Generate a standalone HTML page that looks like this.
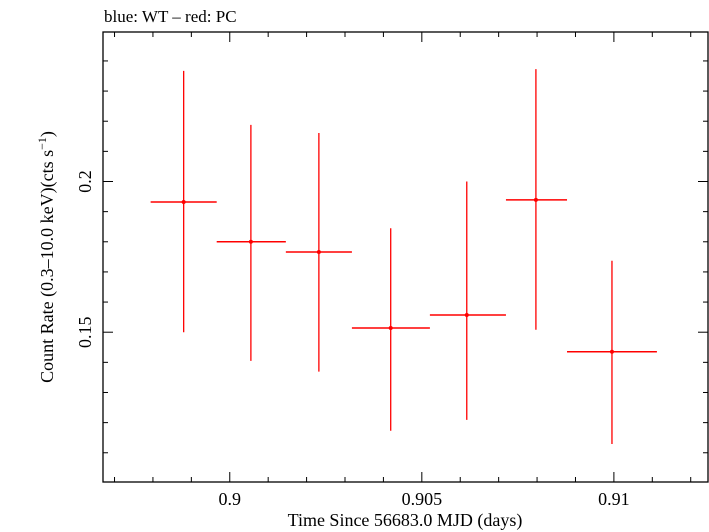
<!DOCTYPE html>
<html><head><meta charset="utf-8"><style>
body{margin:0;background:#fff;}
svg{display:block;font-family:"Liberation Serif",serif;}
</style></head><body>
<svg id="chart" width="709" height="532" viewBox="0 0 709 532" xmlns="http://www.w3.org/2000/svg">
<text x="104" y="22" font-size="17">blue: WT – red: PC</text>
<rect x="103" y="32" width="605" height="450" fill="none" stroke="#000" stroke-width="1.3"/>
<g id="ticks"></g>
<g id="marks"></g>
<text x="405" y="526" font-size="18" text-anchor="middle">Time Since 56683.0 MJD (days)</text>
<text transform="translate(53,257) rotate(-90)" font-size="18" text-anchor="middle">Count Rate (0.3–10.0 keV)(cts s<tspan font-size="12" dy="-7">−1</tspan><tspan dy="7">)</tspan></text>
</svg>
<script>
const times=[0.8988,0.90055,0.90232,0.90419,0.90617,0.90797,0.90995];
const tLo=[0.89794,0.89966,0.90146,0.90318,0.90521,0.90719,0.90878];
const tHi=[0.89966,0.90146,0.90318,0.90521,0.90719,0.90878,0.91112];
const rates=[0.1932,0.18,0.1766,0.1514,0.1557,0.1939,0.1435];
const rateHi=[0.2367,0.2188,0.2161,0.1845,0.2,0.2373,0.1737];
const rateLo=[0.15,0.1405,0.1369,0.1173,0.1209,0.1508,0.1129];
const xTicks=[0.9,0.905,0.91];
const xTickLabels=["0.9","0.905","0.91"];
const yTicks=[0.15,0.2];
const yTickLabels=["0.15","0.2"];
const X0=0.8967,X1=0.91245,Y0=0.1003,Y1=0.2496;
const L=103,R=708,T=32,B=482;
const sx=v=>L+(v-X0)/(X1-X0)*(R-L);
const sy=v=>B-(v-Y0)/(Y1-Y0)*(B-T);
const NS="http://www.w3.org/2000/svg";
function mk(tag,attrs,parent){const e=document.createElementNS(NS,tag);for(const k in attrs)e.setAttribute(k,attrs[k]);parent.appendChild(e);return e;}
const tg=document.getElementById('ticks');
for(let i=897;i<=912;i++){const v=i/1000;const x=sx(v);if(x<L||x>R)continue;const major=i%5===0;const len=major?10:5;
const a=mk('line',{x1:x,x2:x,y1:B,y2:B-len,stroke:'#000','stroke-width':1},tg);


const b=mk('line',{x1:x,x2:x,y1:T,y2:T+len,stroke:'#000','stroke-width':1},tg);

}
for(let i=11;i<=24;i++){const v=i/100;const y=sy(v);if(y<T||y>B)continue;const major=i%5===0;const len=major?10:5;
const a=mk('line',{x1:L,x2:L+len,y1:y,y2:y,stroke:'#000','stroke-width':1},tg);


const b=mk('line',{x1:R,x2:R-len,y1:y,y2:y,stroke:'#000','stroke-width':1},tg);

}
xTicks.forEach((v,i)=>{const t=mk('text',{x:sx(v),y:505,'font-size':18,'text-anchor':'middle'},tg);t.textContent=xTickLabels[i];

});
yTicks.forEach((v,i)=>{const t=mk('text',{transform:`translate(91,${sy(v)}) rotate(-90)`,'font-size':18,'text-anchor':'middle'},tg);t.textContent=yTickLabels[i];

});
const mg=document.getElementById('marks');
times.forEach((t,i)=>{const g=mk('g',{},mg);


mk('line',{x1:sx(tLo[i]),x2:sx(tHi[i]),y1:sy(rates[i]),y2:sy(rates[i]),stroke:'#f00','stroke-width':1.5},g);
mk('line',{x1:sx(t),x2:sx(t),y1:sy(rateLo[i]),y2:sy(rateHi[i]),stroke:'#f00','stroke-width':1.3},g);
mk('circle',{cx:sx(t),cy:sy(rates[i]),r:2,fill:'#f00'},g);});
</script>
</body></html>
